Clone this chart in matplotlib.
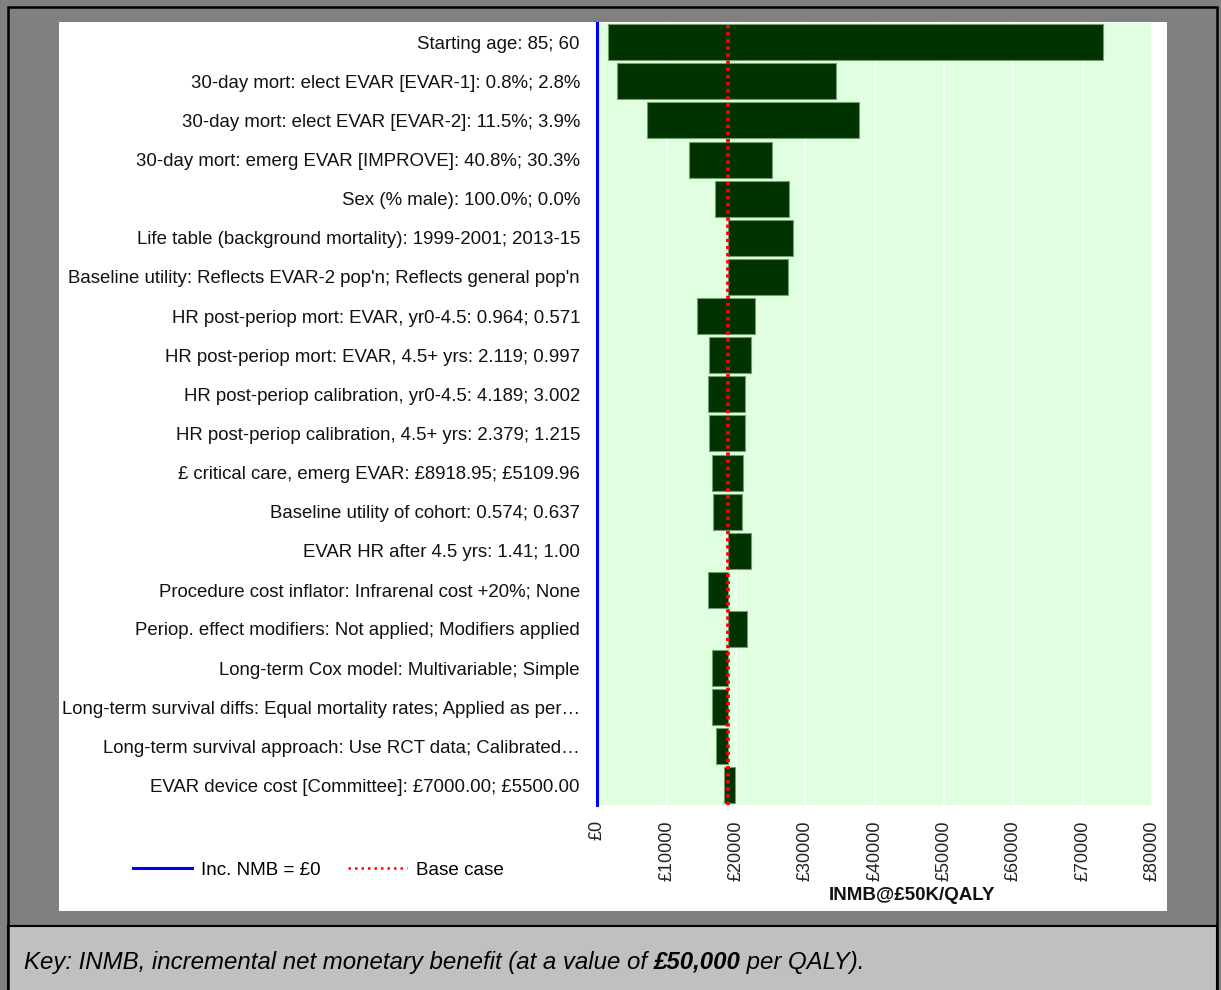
import matplotlib
matplotlib.use('Agg')
import matplotlib.pyplot as plt
from matplotlib.patches import Rectangle
from matplotlib.lines import Line2D

plt.rcParams['font.family'] = ['Liberation Sans', 'DejaVu Sans']

# Tornado data (INMB at £50K/QALY)
labels = [
    "Starting age: 85; 60",
    "30-day mort: elect EVAR [EVAR-1]: 0.8%; 2.8%",
    "30-day mort: elect EVAR [EVAR-2]: 11.5%; 3.9%",
    "30-day mort: emerg EVAR [IMPROVE]: 40.8%; 30.3%",
    "Sex (% male): 100.0%; 0.0%",
    "Life table (background mortality): 1999-2001; 2013-15",
    "Baseline utility: Reflects EVAR-2 pop'n; Reflects general pop'n",
    "HR post-periop mort: EVAR, yr0-4.5: 0.964; 0.571",
    "HR post-periop mort: EVAR, 4.5+ yrs: 2.119; 0.997",
    "HR post-periop calibration, yr0-4.5: 4.189; 3.002",
    "HR post-periop calibration, 4.5+ yrs: 2.379; 1.215",
    "£ critical care, emerg EVAR: £8918.95; £5109.96",
    "Baseline utility of cohort: 0.574; 0.637",
    "EVAR HR after 4.5 yrs: 1.41; 1.00",
    "Procedure cost inflator: Infrarenal cost +20%; None",
    "Periop. effect modifiers: Not applied; Modifiers applied",
    "Long-term Cox model: Multivariable; Simple",
    "Long-term survival diffs: Equal mortality rates; Applied as per…",
    "Long-term survival approach: Use RCT data; Calibrated…",
    "EVAR device cost [Committee]: £7000.00; £5500.00",
]
base_case = 18820
low = [1540, 2800, 7215, 13230, 16940, 18820, 18820, 14340, 16160, 16020,
       16160, 16600, 16740, 18820, 16020, 18820, 16500, 16500, 17130, 18240]
high = [72950, 34440, 37720, 25250, 27660, 28280, 27470, 22800, 22130, 21360,
        21360, 20980, 20840, 22140, 18820, 21650, 18820, 18820, 18820, 19870]
xticks = list(range(0, 80001, 10000))
xticklabels = ['£' + str(v) for v in xticks]

W, H = 1221, 990
fig = plt.figure(figsize=(W / 100, H / 100), dpi=100, facecolor='#808080')


def fx(x):
    return x / W


def fy(y):
    return 1 - y / H


# frame, white panel and caption box (behind the axes)
fig.patches.append(Rectangle((fx(59), fy(911)), fx(1167) - fx(59), fy(22) - fy(911),
                             transform=fig.transFigure, facecolor='white',
                             edgecolor='none', zorder=-3))
fig.patches.append(Rectangle((fx(8), fy(995)), fx(1217) - fx(8), fy(926) - fy(995),
                             transform=fig.transFigure, facecolor='#c0c0c0',
                             edgecolor='black', lw=1.5, zorder=-2))
fig.patches.append(Rectangle((fx(8), fy(995)), fx(1217) - fx(8), fy(7) - fy(995),
                             transform=fig.transFigure, facecolor='none',
                             edgecolor='black', lw=1.8, zorder=-1))

ax = fig.add_axes([fx(597.3), fy(805), fx(1152) - fx(597.3), fy(22.7) - fy(805)])
ax.set_zorder(2)
ax.set_facecolor('#e0ffe0')
for s in ax.spines.values():
    s.set_visible(False)

ypos = list(range(len(labels)))
widths = [h - l for l, h in zip(low, high)]
ax.barh(ypos, widths, left=low, height=0.92, color='#003300',
        edgecolor='#6f9f6f', linewidth=0.8, zorder=2)

zero_line = ax.axvline(0, color='blue', lw=2.2, zorder=4, clip_on=False)
base_line = ax.axvline(base_case, color='#ff0000', lw=2.7, ls=(0, (0.9, 1.0)), zorder=5)

ax.set_xlim(0, 80000)
ax.set_ylim(len(labels) - 0.5, -0.5)
ax.set_xticks(xticks)
ax.set_xticklabels(xticklabels, rotation=90, fontsize=13, color='#222222')
ax.set_yticks(ypos)
ax.set_yticklabels(labels, fontsize=13.4, color='#111111')
ax.tick_params(axis='both', length=0)
ax.tick_params(axis='y', pad=12.5)
ax.tick_params(axis='x', pad=11)
ax.grid(axis='x', color='white', lw=1.2, zorder=1)
ax.set_axisbelow(True)

fig.text(fx(912), fy(896), 'INMB@£50K/QALY', ha='center', va='center',
         fontsize=13.5, fontweight='bold', color='#111111')

handles = [Line2D([], [], color='blue', lw=2.2),
           Line2D([], [], color='red', lw=1.8, ls=(0, (1, 1.6)))]
fig.legend(handles, ['Inc. NMB = £0', 'Base case'], loc='center left',
           bbox_to_anchor=(fx(133), fy(870)), ncol=2, frameon=False,
           fontsize=13.6, handlelength=3.1, handletextpad=0.5,
           columnspacing=1.45, borderpad=0, borderaxespad=0)

# caption with a bold part
renderer = fig.canvas.get_renderer()
pieces = [("Key: INMB, incremental net monetary benefit (at a value of ", 'normal'),
          ("£50,000", 'bold'),
          (" per QALY).", 'normal')]
x = fx(24)
for txt, wt in pieces:
    t = fig.text(x, fy(962), txt, ha='left', va='center', fontsize=17.3,
                 style='italic', fontweight=wt, color='black')
    bb = t.get_window_extent(renderer=renderer)
    x = bb.x1 / W

fig.savefig('out.png', dpi=100, facecolor=fig.get_facecolor())
